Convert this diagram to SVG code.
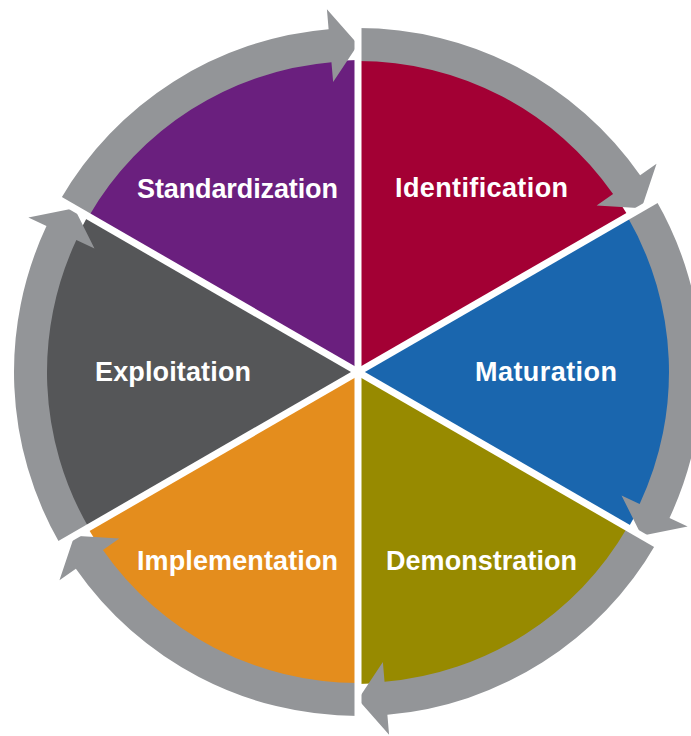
<svg xmlns="http://www.w3.org/2000/svg" width="691" height="736" viewBox="0 0 691 736">
  <style>
    .label { font-family: "Liberation Sans", Arial, sans-serif; font-weight: bold; font-size: 27px; fill: #ffffff; }
    .ring { fill: #939598; }
    .gap { stroke: #ffffff; stroke-width: 7; fill: none; }
  </style>
  <rect width="691" height="736" fill="#ffffff"/>

  <!-- Six phase wedges around centre (358,372), radius 312 -->
  <g id="standardization">
    <path d="M358,372 L87.80,216 A312,312 0 0 1 358,60 Z" fill="#6A1F7E"/>
    <text class="label" x="137" y="198" textLength="201" lengthAdjust="spacing">Standardization</text>
  </g>
  <g id="identification">
    <path d="M358,372 L358,60 A312,312 0 0 1 628.20,216 Z" fill="#A30034"/>
    <text class="label" x="395" y="197" textLength="173" lengthAdjust="spacing">Identification</text>
  </g>
  <g id="maturation">
    <path d="M358,372 L628.20,216 A312,312 0 0 1 628.20,528 Z" fill="#1A66AE"/>
    <text class="label" x="475" y="381" textLength="142" lengthAdjust="spacing">Maturation</text>
  </g>
  <g id="demonstration">
    <path d="M358,372 L628.20,528 A312,312 0 0 1 358,684 Z" fill="#978A00"/>
    <text class="label" x="386" y="570" textLength="191" lengthAdjust="spacing">Demonstration</text>
  </g>
  <g id="implementation">
    <path d="M358,372 L358,684 A312,312 0 0 1 87.80,528 Z" fill="#E48D1D"/>
    <text class="label" x="137" y="570" textLength="201" lengthAdjust="spacing">Implementation</text>
  </g>
  <g id="exploitation">
    <path d="M358,372 L87.80,528 A312,312 0 0 1 87.80,216 Z" fill="#555658"/>
    <text class="label" x="95" y="381" textLength="156" lengthAdjust="spacing">Exploitation</text>
  </g>

  <!-- Clockwise cycle arrows: ring segment (r 311..344) ending in an arrowhead -->
  <g id="connectors" class="ring">
    <path d="M60.09,200 A344,344 0 0 1 328.62,29.26 L326.91,9.33 L358,44.5 L333.14,82.06 L331.44,62.14 A311,311 0 0 0 88.67,216.5 Z"/>
    <path d="M358,28 A344,344 0 0 1 640.13,175.18 L656.53,163.74 L641.62,208.25 L596.66,205.51 L613.07,194.06 A311,311 0 0 0 358,61 Z"/>
    <path d="M655.91,200 A344,344 0 0 1 669.52,517.93 L687.63,526.41 L641.62,535.75 L621.52,495.44 L639.63,503.93 A311,311 0 0 0 627.33,216.5 Z"/>
    <path d="M655.91,544 A344,344 0 0 1 387.38,714.74 L389.09,734.67 L358,699.5 L382.86,661.94 L384.56,681.86 A311,311 0 0 0 627.33,527.5 Z"/>
    <path d="M358,716 A344,344 0 0 1 75.87,568.82 L59.47,580.26 L74.38,535.75 L119.34,538.49 L102.93,549.94 A311,311 0 0 0 358,683 Z"/>
    <path d="M60.09,544 A344,344 0 0 1 46.48,226.08 L28.37,217.59 L74.38,208.25 L94.48,248.56 L76.37,240.07 A311,311 0 0 0 88.67,527.5 Z"/>
  </g>

  <!-- White separators between phases, running out through the ring -->
  <g id="separators" class="gap">
    <line x1="358" y1="0" x2="358" y2="744"/>
    <line x1="35.84" y1="186" x2="680.16" y2="558"/>
    <line x1="680.16" y1="186" x2="35.84" y2="558"/>
  </g>
</svg>
